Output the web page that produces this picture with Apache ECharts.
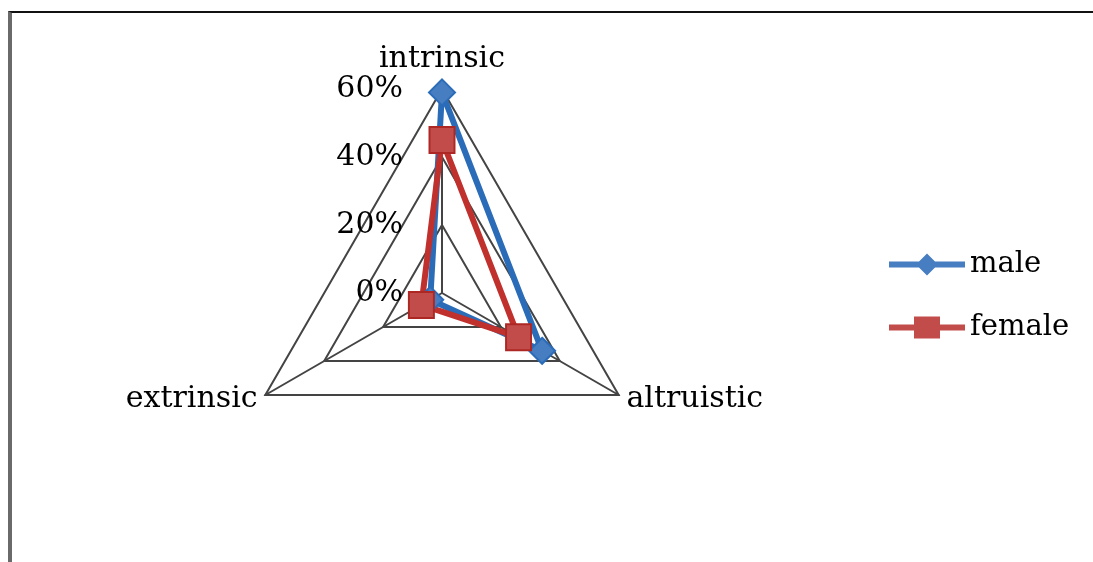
<!DOCTYPE html>
<html>
<head>
<meta charset="utf-8">
<script src="https://cdn.jsdelivr.net/npm/echarts@6/dist/echarts.min.js"></script>
<style>
	html, body { margin: 0; padding: 0; background: #fff; }
	#frame {
		position: absolute; left: 8px; top: 11px; width: 1085px; height: 551px;
		border-left: 4px solid #6a6a6a; border-top: 2px solid #111;
	}
	#main { position: absolute; left: 0; top: 0; width: 1093px; height: 562px; }
</style>
</head>
<body>
<div id="frame"></div>
<div id="main"></div>
<script>
// categories go counterclockwise in echarts, so extrinsic comes second
const categories = ['intrinsic', 'extrinsic', 'altruistic']
const maleValues = [59, 4, 34]
const femaleValues = [45, 7, 26]
const axisMax = 60

const font = 'DejaVu Serif'

// legend icons: line with the marker on it
const maleIcon = 'path://M0,8 L76,8 L76,14 L0,14 Z M38,0 L49,11 L38,22 L27,11 Z'
const femaleIcon = 'path://M0,8 L76,8 L76,14 L0,14 Z M25,0 L51,0 L51,22 L25,22 Z'

const chart = echarts.init(document.getElementById('main'))

const option = {
	backgroundColor: 'transparent',
	animation: false,
	legend: {
		orient: 'vertical',
		left: 884,
		top: 245,
		itemWidth: 76,
		itemHeight: 22,
		itemGap: 34,
		itemStyle: { borderWidth: 0 },
		textStyle: { fontFamily: font, fontSize: 29, color: '#000' },
		data: [
			{ name: 'male', icon: maleIcon },
			{ name: 'female', icon: femaleIcon }
		]
	},
	radar: {
		center: [442, 293],
		radius: 204,
		shape: 'polygon',
		splitNumber: 3,
		nameGap: 9,
		axisName: { fontFamily: font, fontSize: 30, color: '#000' },
		axisLine: { lineStyle: { color: '#444', width: 2 } },
		splitLine: { lineStyle: { color: '#444', width: 2 } },
		splitArea: { show: false },
		axisTick: { show: false },
		axisLabel: { show: false },
		indicator: categories.map(function(name, i) {
			let item = { name: name, min: 0, max: axisMax }
			if (i === 0) {
				item.axisLabel = {
					show: true,
					fontFamily: font,
					fontSize: 30,
					color: '#000',
					margin: 39,
					formatter: function(v) { return v + '%' }
				}
			}
			return item
		})
	},
	series: [{
		type: 'radar',
		data: [{
			name: 'male',
			value: maleValues,
			symbol: 'diamond',
			symbolSize: [26, 26],
			lineStyle: { color: '#2b6cb8', width: 6 },
			itemStyle: { color: '#477dc1', borderColor: '#2b6cb8', borderWidth: 2 }
		}, {
			name: 'female',
			value: femaleValues,
			symbol: 'rect',
			symbolSize: [25, 26],
			lineStyle: { color: '#c0302c', width: 6 },
			itemStyle: { color: '#c24c4a', borderColor: '#ad2824', borderWidth: 2 }
		}]
	}]
}

chart.setOption(option)
</script>
</body>
</html>
